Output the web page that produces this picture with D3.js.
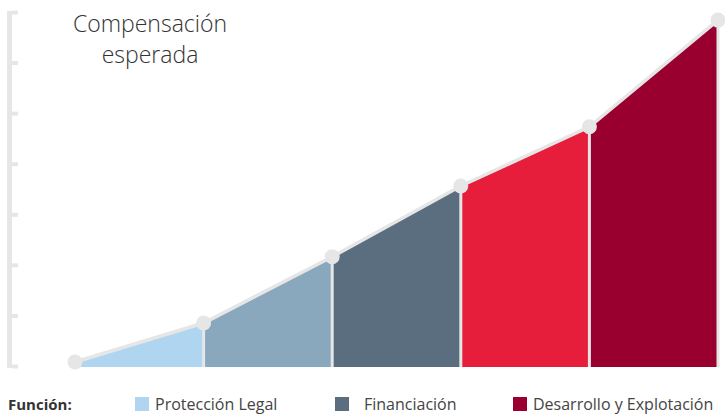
<!DOCTYPE html>
<html>
<head>
<meta charset="utf-8">
<script src="https://cdn.jsdelivr.net/npm/d3@7"></script>
<style>
  body { margin: 0; background: #fff; }
  svg { display: block; font-family: "Open Sans", "Noto Sans", sans-serif; }
</style>
</head>
<body>
<div id="app"></div>
<script>
// stages along the x axis and expected compensation at each stage
const stages = [0, 1, 2, 3, 4, 5]
const compensation = [0.08, 0.85, 2.16, 3.56, 4.73, 6.84]
const yTicks = [0, 1, 2, 3, 4, 5, 6, 7]
const funciones = ['Protección Legal', 'Financiación', 'Desarrollo y Explotación']
const segmentColors = ['#b0d5f1', '#8aa8bd', '#5b6e80', '#e61d3b', '#990030']
const legendColors = ['#b0d5f1', '#5b6e80', '#990030']

const width = 725
const height = 414
const lineColor = '#e6e6e6'

const svg = d3.select('#app').append('svg')
    .attr('width', width)
    .attr('height', height)

const x = d3.scaleLinear().domain([0, 5]).range([75, 718])
const y = d3.scaleLinear().domain([0, 7]).range([366, 12])

const points = stages.map((s, i) => ({stage: s, value: compensation[i]}))

// filled segments between consecutive points
const area = d3.area()
    .x(d => x(d.stage))
    .y0(y(0) + 1)
    .y1(d => y(d.value))

const segments = d3.range(points.length - 1).map(i => [points[i], points[i + 1]])
svg.selectAll('path.segment')
    .data(segments)
    .enter().append('path')
    .attr('class', 'segment')
    .attr('d', d => area(d))
    .attr('fill', (d, i) => segmentColors[i])

// vertical separators
svg.selectAll('line.sep')
    .data(points.slice(1))
    .enter().append('line')
    .attr('class', 'sep')
    .attr('x1', d => x(d.stage))
    .attr('x2', d => x(d.stage))
    .attr('y1', d => y(d.value))
    .attr('y2', y(0) + 1)
    .attr('stroke', lineColor)
    .attr('stroke-width', 3)

// top line
svg.append('path')
    .datum(points)
    .attr('fill', 'none')
    .attr('stroke', lineColor)
    .attr('stroke-width', 3.5)
    .attr('d', d3.line().x(d => x(d.stage)).y(d => y(d.value)))

svg.selectAll('circle')
    .data(points)
    .enter().append('circle')
    .attr('cx', d => x(d.stage))
    .attr('cy', d => y(d.value))
    .attr('r', 7.5)
    .attr('fill', lineColor)

// y axis as a thick gray bracket
const axis = svg.append('g').attr('transform', 'translate(12,0)')
    .call(d3.axisRight(y).tickValues(yTicks).tickSize(6).tickFormat(''))
axis.select('.domain').remove()
axis.selectAll('.tick line').attr('stroke', lineColor).attr('stroke-width', 4)
svg.append('rect')
    .attr('x', 7).attr('y', y(7) - 1)
    .attr('width', 5).attr('height', y(0) - y(7) + 3)
    .attr('fill', lineColor)

// title
const title = svg.append('text')
    .attr('x', 150)
    .attr('text-anchor', 'middle')
    .attr('fill', '#333')
    .style('font-size', '23px')
    .style('font-weight', 300)
title.append('tspan').attr('x', 150).attr('y', 32).text('Compensación')
title.append('tspan').attr('x', 150).attr('y', 63).text('esperada')

// legend
svg.append('text')
    .attr('x', 8).attr('y', 410)
    .attr('fill', '#333')
    .style('font-size', '15px')
    .style('font-weight', 700)
    .text('Función:')

const legendX = [135, 335, 513]
const legend = svg.selectAll('g.legend')
    .data(funciones)
    .enter().append('g')
    .attr('class', 'legend')
    .attr('transform', (d, i) => `translate(${legendX[i]},397)`)
legend.append('rect')
    .attr('width', 14).attr('height', 14)
    .attr('fill', (d, i) => legendColors[i])
legend.append('text')
    .attr('x', (d, i) => i == 1 ? 29 : 20)
    .attr('y', 13)
    .attr('fill', '#444')
    .style('font-size', '16px')
    .text(d => d)
</script>
</body>
</html>
